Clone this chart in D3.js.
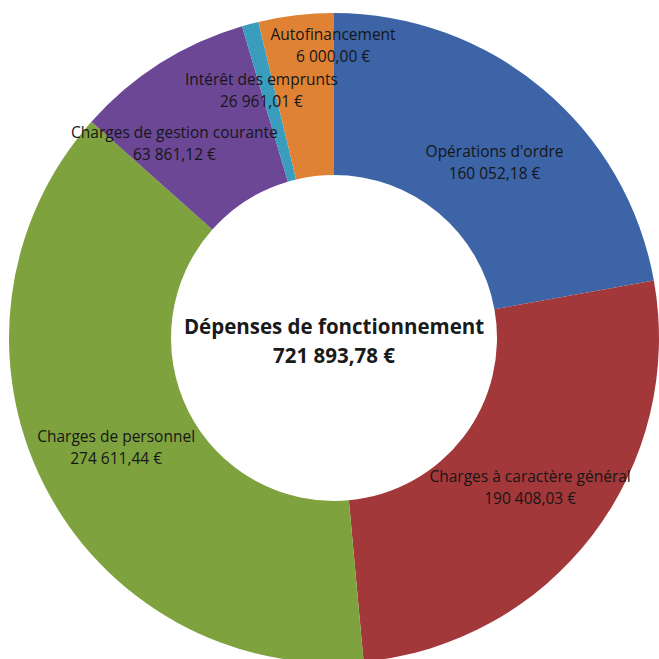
<!DOCTYPE html>
<html>
<head>
<meta charset="utf-8">
<script src="https://cdn.jsdelivr.net/npm/d3@7"></script>
<style>
    html, body { margin: 0; padding: 0; background: #fff; }
    #chart { width: 659px; height: 659px; }
    .label { font-family: "Open Sans", sans-serif; font-size: 15.5px; fill: #161616; }
    .title { font-family: "Open Sans", sans-serif; font-size: 20.5px; font-weight: bold; fill: #1a1a1a; }
</style>
</head>
<body>
<div id="chart"></div>
<script>
// Dépenses de fonctionnement (slices in clockwise order from the top)
const categories = [
    "Opérations d'ordre",
    "Charges à caractère général",
    "Charges de personnel",
    "Charges de gestion courante",
    "Autofinancement",
    "Intérêt des emprunts"
];
const amounts = [160052.18, 190408.03, 274611.44, 63861.12, 6000.00, 26961.01];
const colors = ["#3c64a6", "#a3383a", "#7ea33e", "#6b4796", "#3b9dbe", "#e08234"];
const totalLabel = "Dépenses de fonctionnement";

// small manual nudges of the data labels, like in the original chart
const labelNudge = [[4, 10], [2, 0], [0, -2], [-29, 10], [62, -58], [-44, -7]];

const width = 659, height = 659;
const cx = 334, cy = 338;
const outerR = 325, innerR = 163;

const fr = d3.formatLocale({ decimal: ",", thousands: "\u00a0", grouping: [3], currency: ["", " €"] });
const money = fr.format(",.2f");

const data = categories.map((c, i) => ({ name: c, value: amounts[i], color: colors[i], nudge: labelNudge[i] }));
const total = d3.sum(amounts);

const svg = d3.select("#chart").append("svg")
    .attr("width", width)
    .attr("height", height);

const g = svg.append("g").attr("transform", `translate(${cx},${cy})`);

const pie = d3.pie().value(d => d.value).sort(null);
const arc = d3.arc().innerRadius(innerR).outerRadius(outerR);
const labelArc = d3.arc().innerRadius((innerR + outerR) / 2).outerRadius((innerR + outerR) / 2);

const arcs = pie(data);

g.selectAll("path")
    .data(arcs)
    .enter()
    .append("path")
    .attr("d", arc)
    .attr("fill", d => d.data.color);

const labels = g.selectAll("text.label")
    .data(arcs)
    .enter()
    .append("text")
    .attr("class", "label")
    .attr("text-anchor", "middle")
    .attr("transform", d => {
        const [x, y] = labelArc.centroid(d);
        return `translate(${x + d.data.nudge[0]},${y + d.data.nudge[1]})`;
    });

labels.append("tspan")
    .attr("x", 0)
    .attr("y", -4)
    .text(d => d.data.name);

labels.append("tspan")
    .attr("x", 0)
    .attr("y", 18)
    .text(d => money(d.data.value) + " €");

// center text
const title = g.append("text")
    .attr("class", "title")
    .attr("text-anchor", "middle");

title.append("tspan").attr("x", 0).attr("y", -4).text(totalLabel);
title.append("tspan").attr("x", 0).attr("y", 25).text(money(total) + " €");
</script>
</body>
</html>
